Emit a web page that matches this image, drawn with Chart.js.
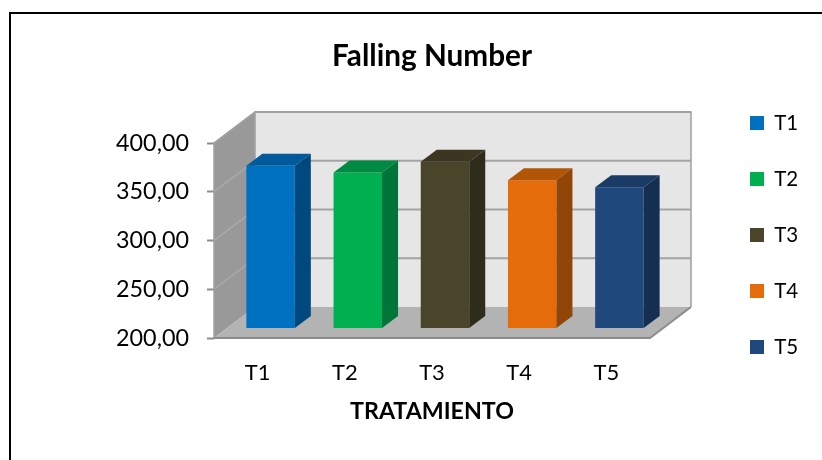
<!DOCTYPE html>
<html><head><meta charset="utf-8">
<script src="https://cdn.jsdelivr.net/npm/chart.js@4/dist/chart.umd.min.js"></script>
<style>
html,body{margin:0;padding:0;background:#fff;overflow:hidden;}
#wrap{position:relative;width:822px;height:460px;overflow:hidden;}
#frame{position:absolute;left:9px;top:12px;width:900px;height:600px;border-left:2px solid #000;border-top:2px solid #000;}
canvas{position:absolute;left:0;top:0;}
</style></head><body>
<div id="wrap"><div id="frame"></div><canvas id="c" width="822" height="460"></canvas></div>
<script>
// ---- data ----
const categories = ['T1', 'T2', 'T3', 'T4', 'T5'];
const fallingNumber = [367, 360, 371, 352, 345];
const yTickValues = [200, 250, 300, 350, 400];
const yTickLabels = ['200,00', '250,00', '300,00', '350,00', '400,00'];
const chartTitle = 'Falling Number';
const xAxisTitle = 'TRATAMIENTO';

// ---- styles ----
const frontColors = ['#0070C0', '#00B050', '#4A452A', '#E46C0A', '#1F497D'];
const sideColors  = ['#00497F', '#00753A', '#2F2C1B', '#914506', '#142F51'];
const topColors   = ['#005A9C', '#008A42', '#3A3621', '#B15507', '#193B65'];
const FONT = 'Lato';

function fitSize(text, weight, target) {
  const m = document.createElement('canvas').getContext('2d');
  m.font = weight + ' 100px ' + FONT;
  return 100 * target / m.measureText(text).width;
}
function textW(text, weight, size) {
  const m = document.createElement('canvas').getContext('2d');
  m.font = weight + ' ' + size + 'px ' + FONT;
  return m.measureText(text).width;
}
const titleSize = fitSize(chartTitle, 'bold', 200);
const tickSize = fitSize('400,00', 'normal', 73);
const xTickSize = fitSize('T1', 'normal', 25.7);
const legSize = fitSize('T1', 'normal', 24);
const xTitleSize = fitSize(xAxisTitle, 'bold', 164);

const WALL = {dx: 41, dy: -31};
const BAR_SHIFT = {dx: 13, dy: -9.5};
const BAR_DEPTH = {dx: 16, dy: -12};

const AREA = {left: 214, right: 650, top: 143, bottom: 338};
const PAD_TOP = 10;
const LEG_PAD = 56 - legSize, LEG_BOX = 14;
const maxLegText = Math.max(...categories.map(c => textW(c, 'normal', legSize)));
const legWidth = LEG_PAD + LEG_BOX + legSize / 2 + maxLegText + 10;
const padR = Math.max(0, 822 - (750 - LEG_PAD) - legWidth);
const X_TITLE_CENTER = 432;
const padL = 2 * X_TITLE_CENTER - 822 + padR;

const titleLH = titleSize * 1.2;
const titlePadTop = 56 - PAD_TOP - titleLH / 2;
const titlePadBottom = AREA.top - PAD_TOP - titlePadTop - titleLH;
const xTitleLH = xTitleSize * 1.2;
const xTitlePadBottom = 460 - 412 - xTitleLH / 2;
const xTitleTop = 460 - xTitlePadBottom - xTitleLH;
const xTickLH = xTickSize * 1.2;

const box3d = {
  id: 'box3d',
  beforeDatasetsDraw(chart) {
    const {ctx, chartArea: a, scales: {y}} = chart;
    const L = a.left, R = a.right;
    const T = y.getPixelForValue(yTickValues[yTickValues.length - 1]);
    const B = y.getPixelForValue(yTickValues[0]);
    const dx = WALL.dx, dy = WALL.dy;
    ctx.save();
    // back wall
    ctx.fillStyle = '#E6E6E6';
    ctx.fillRect(L + dx, T + dy, R - L, B - T);
    // left wall
    ctx.fillStyle = '#999999';
    ctx.beginPath();
    ctx.moveTo(L, T); ctx.lineTo(L + dx, T + dy); ctx.lineTo(L + dx, B + dy); ctx.lineTo(L, B);
    ctx.closePath(); ctx.fill();
    // floor
    ctx.fillStyle = '#B3B3B3';
    ctx.beginPath();
    ctx.moveTo(L, B); ctx.lineTo(R, B); ctx.lineTo(R + dx, B + dy); ctx.lineTo(L + dx, B + dy);
    ctx.closePath(); ctx.fill();
    // gridlines
    yTickValues.forEach((v, i) => {
      const py = y.getPixelForValue(v);
      if (i > 0) {
        ctx.strokeStyle = '#A3A3A3';
        ctx.lineWidth = 2;
        ctx.beginPath(); ctx.moveTo(L + dx, py + dy); ctx.lineTo(R + dx, py + dy); ctx.stroke();
        ctx.strokeStyle = '#ABABAB';
        ctx.lineWidth = 1.5;
        ctx.beginPath(); ctx.moveTo(L, py); ctx.lineTo(L + dx, py + dy); ctx.stroke();
      }
    });
    // edges
    ctx.strokeStyle = '#A0A0A0';
    ctx.lineWidth = 1.5;
    ctx.beginPath();
    ctx.moveTo(L + dx, B + dy); ctx.lineTo(L + dx, T + dy); ctx.lineTo(R + dx, T + dy); ctx.lineTo(R + dx, B + dy);
    ctx.stroke();
    ctx.beginPath(); ctx.moveTo(L, B); ctx.lineTo(L, T); ctx.lineTo(L + dx, T + dy); ctx.stroke();
    ctx.strokeStyle = '#8C8C8C';
    ctx.lineWidth = 2;
    ctx.beginPath(); ctx.moveTo(L, B); ctx.lineTo(R, B); ctx.lineTo(R + dx, B + dy); ctx.stroke();
    ctx.restore();
    ctx.save();
    ctx.translate(BAR_SHIFT.dx, BAR_SHIFT.dy);
  },
  afterDatasetsDraw(chart) {
    const {ctx} = chart;
    const meta = chart.getDatasetMeta(0);
    const ddx = BAR_DEPTH.dx, ddy = BAR_DEPTH.dy;
    meta.data.forEach((el, i) => {
      const {x, y, base, width} = el.getProps(['x', 'y', 'base', 'width'], true);
      const x0 = x - width / 2, x1 = x + width / 2;
      ctx.fillStyle = topColors[i];
      ctx.beginPath();
      ctx.moveTo(x0, y); ctx.lineTo(x1, y); ctx.lineTo(x1 + ddx, y + ddy); ctx.lineTo(x0 + ddx, y + ddy);
      ctx.closePath(); ctx.fill();
      ctx.fillStyle = sideColors[i];
      ctx.beginPath();
      ctx.moveTo(x1, y); ctx.lineTo(x1 + ddx, y + ddy); ctx.lineTo(x1 + ddx, base + ddy); ctx.lineTo(x1, base);
      ctx.closePath(); ctx.fill();
    });
    ctx.restore();
  }
};

new Chart(document.getElementById('c'), {
  type: 'bar',
  data: {
    labels: categories,
    datasets: [{
      label: chartTitle,
      data: fallingNumber,
      base: yTickValues[0],
      backgroundColor: frontColors,
      borderWidth: 0,
      barPercentage: 0.556,
      categoryPercentage: 1,
      clip: false
    }]
  },
  options: {
    responsive: false,
    animation: false,
    events: [],
    layout: {padding: {left: padL, right: padR, top: PAD_TOP, bottom: 0}},
    scales: {
      x: {
        grid: {display: false, drawTicks: false},
        border: {display: false},
        ticks: {color: '#000', font: {family: FONT, size: xTickSize}, padding: 373 - AREA.bottom - xTickLH / 2},
        afterFit(s) { s.height = xTitleTop - AREA.bottom; }
      },
      y: {
        min: yTickValues[0],
        max: yTickValues[yTickValues.length - 1],
        afterBuildTicks(s) { s.ticks = yTickValues.map(v => ({value: v})); },
        grid: {drawOnChartArea: false, tickLength: 7, tickColor: '#8C8C8C', tickWidth: 2},
        border: {display: false},
        ticks: {
          color: '#000', font: {family: FONT, size: tickSize}, padding: 18,
          callback: (v) => yTickLabels[yTickValues.indexOf(v)]
        },
        afterFit(s) { s.width = AREA.left - padL; }
      },
      y2: {
        type: 'linear', position: 'right', display: true,
        grid: {display: false, drawTicks: false}, border: {display: false},
        ticks: {display: false},
        afterFit(s) {
          const lw = s.chart.legend ? s.chart.legend.width : legWidth;
          s.width = Math.max(0, 822 - padR - lw - AREA.right);
        }
      }
    },
    plugins: {
      title: {
        display: true, text: chartTitle, color: '#000', fullSize: false,
        font: {family: FONT, size: titleSize, weight: 'bold'},
        padding: {top: titlePadTop, bottom: titlePadBottom}
      },
      subtitle: {
        display: true, text: xAxisTitle, color: '#000', position: 'bottom', fullSize: true,
        font: {family: FONT, size: xTitleSize, weight: 'bold'},
        padding: {top: 0, bottom: xTitlePadBottom}
      },
      legend: {
        display: true, position: 'right',
        labels: {
          color: '#000', font: {family: FONT, size: legSize},
          boxWidth: LEG_BOX, boxHeight: LEG_BOX, padding: LEG_PAD,
          generateLabels: () => categories.map((c, i) => ({
            text: c, fillStyle: frontColors[i], strokeStyle: frontColors[i], lineWidth: 0, index: i, hidden: false
          }))
        }
      },
      tooltip: {enabled: false}
    }
  },
  plugins: [box3d]
});
</script>
</body></html>
